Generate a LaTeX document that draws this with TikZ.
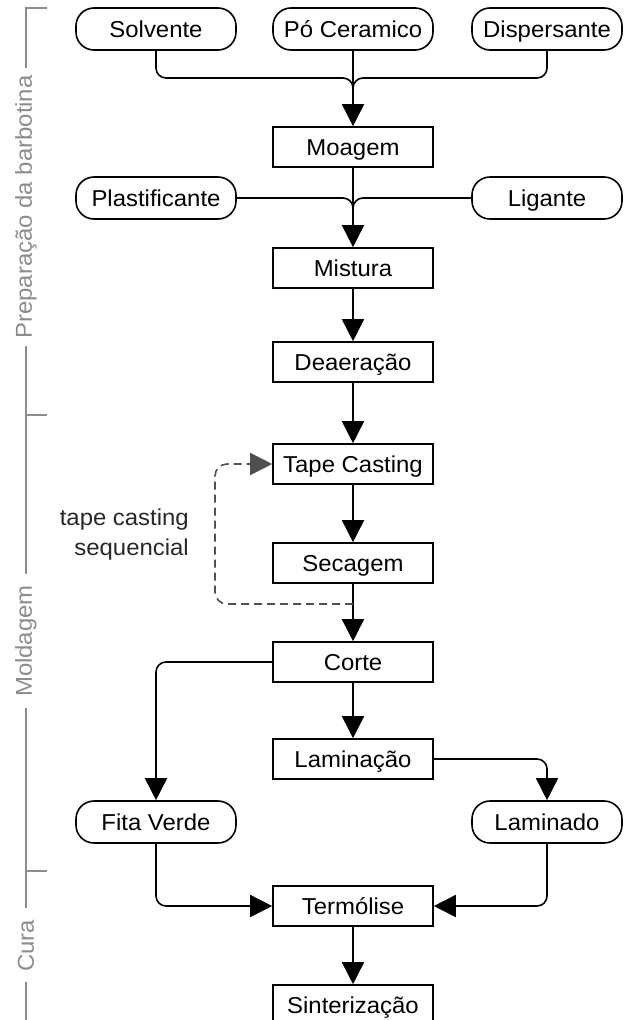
\documentclass[tikz,border=0pt]{standalone}
\usepackage{fontspec}
\setmainfont{Liberation Sans}[FakeStretch=1.04]
\usetikzlibrary{arrows.meta}
\definecolor{sidegray}{RGB}{140,140,140}
\definecolor{dashgray}{RGB}{80,80,80}
\definecolor{labeltext}{RGB}{40,40,40}
\begin{document}
\begin{tikzpicture}[x=1pt,y=-1pt,
  every node/.style={font=\fontsize{23}{30}\selectfont},
  fixbase/.style={text height=21pt, text depth=4.5pt},
  procbox/.style={draw, fixbase, line width=1.6pt, minimum width=160pt, minimum height=40pt, inner sep=0pt},
  pill/.style={draw, fixbase, line width=1.6pt, rounded corners=18pt, minimum width=160pt, minimum height=42pt, inner sep=0pt},
  rpill/.style={pill, minimum width=150pt},
  conn/.style={line width=1.6pt, rounded corners=10pt},
  arr/.style={conn, -{Triangle[length=22pt,width=22pt]}},
  dashconn/.style={line width=1.6pt, draw=dashgray, dash pattern=on 8pt off 5pt, rounded corners=12pt, -{Triangle[length=22pt,width=22pt,fill=dashgray]}},
  sideline/.style={draw=sidegray, line width=1.5pt},
  sidelabel/.style={rotate=90, text=sidegray, inner sep=0pt}
]
\useasboundingbox (0,0) rectangle (625,1020);
\clip (0,0) rectangle (625,1020);

% side lanes
\node[sidelabel] (lp) at (26,207) {Preparação da barbotina};
\node[sidelabel] (lm) at (26,641) {Moldagem};
\node[sidelabel] (lc) at (26,946) {Cura};
\draw[sideline] (47,8) -- (26,8) -- (26,68);
\draw[sideline] (26,346) -- (26,574);
\draw[sideline] (26,415) -- (47,415);
\draw[sideline] (26,708) -- (26,908);
\draw[sideline] (26,871) -- (47,871);
\draw[sideline] (26,982) -- (26,1025);

% nodes
\node[pill] (solv) at (156,29) {Solvente};
\node[pill] (po) at (353,29) {Pó Ceramico};
\node[rpill] (disp) at (547,29) {Dispersante};
\node[procbox] (moag) at (353,147) {Moagem};
\node[pill] (plast) at (156,198) {Plastificante};
\node[rpill] (lig) at (547,198) {Ligante};
\node[procbox] (mist) at (353,268) {Mistura};
\node[procbox] (deae) at (353,362) {Deaeração};
\node[procbox] (tape) at (353,464) {Tape Casting};
\node[procbox] (seca) at (353,563) {Secagem};
\node[procbox] (corte) at (353,662) {Corte};
\node[procbox] (lamc) at (353,759) {Laminação};
\node[pill] (fita) at (156,822) {Fita Verde};
\node[rpill] (lamd) at (547,822) {Laminado};
\node[procbox] (term) at (353,906) {Termólise};
\node[procbox] (sint) at (353,1005) {Sinterização};

\node[align=right, anchor=east, text=labeltext, inner sep=0pt] (tcs) at (189,535) {tape casting\\sequencial};

% connectors
\draw[arr] (po.south) -- (moag.north);
\draw[conn] (solv.south) -- (156,78) -- (353,78) -- (353,108);
\draw[conn] (disp.south) -- (547,78) -- (353,78) -- (353,108);

\draw[arr] (moag.south) -- (mist.north);
\draw[conn] (plast.east) -- (353,198) -- (353,229);
\draw[conn] (lig.west) -- (353,198) -- (353,229);

\draw[arr] (mist.south) -- (deae.north);
\draw[arr] (deae.south) -- (tape.north);
\draw[arr] (tape.south) -- (seca.north);
\draw[arr] (seca.south) -- (corte.north);
\coordinate (dj) at (353,604);
\draw[dashconn] (dj) -- (215,604) -- (215,464) -- (tape.west);

\draw[arr] (corte.west) -- (156,662) -- (fita.north);
\draw[arr] (corte.south) -- (lamc.north);
\draw[arr] (lamc.east) -- (547,759) -- (lamd.north);
\draw[arr] (fita.south) -- (156,906) -- (term.west);
\draw[arr] (lamd.south) -- (547,906) -- (term.east);
\draw[arr] (term.south) -- (sint.north);
\end{tikzpicture}
\end{document}
